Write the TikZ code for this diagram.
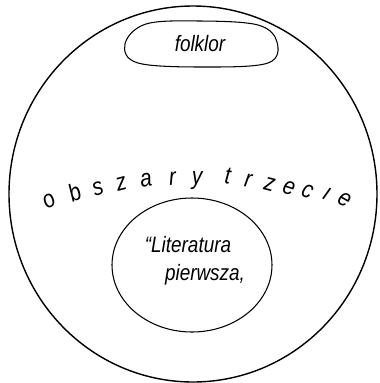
\documentclass[tikz,border=0pt]{standalone}
\usepackage{fontspec}
\setsansfont{Liberation Sans}
\newfontfamily\drawfont[FakeStretch=0.85]{Liberation Sans}
\begin{document}
\begin{tikzpicture}[x=0.03cm, y=-0.03cm,
    area/.style={draw, line width=0.9pt},
    label/.style={font=\drawfont\itshape\fontsize{19}{22}\selectfont, text centered, align=center},
    letter/.style={font=\drawfont\itshape\fontsize{21}{22}\selectfont, anchor=base, inner sep=0pt}]
    \useasboundingbox (0,0) rectangle (379,383);
    % outer circle
    \draw [area, line width=1.2pt] (193,194) ellipse [x radius=184, y radius=188];
    % folklor
    \draw [area] plot [smooth cycle, tension=0.6] coordinates {(125,44) (146,24) (200,21) (258,25) (277,42) (268,63) (205,67) (138,63)};
    \node [label] (folk) at (200,44) {folklor};
    % literatura pierwsza
    \draw [area] (192,265) ellipse [x radius=80, y radius=67];
    \node [label, anchor=base] (lit) at (188,252) {“Literatura};
    \node [label, anchor=base] (pier) at (205,280) {pierwsza,};
    % obszary trzecie
    \foreach \ch/\x/\y in {o/53/207, b/78/200, s/100/195, z/123/190, a/147/187, r/173/185, y/197/185,
        t/227/184, r/247/187, z/268/191, e/287/194, c/305/197, \i/324/200, e/342/205}
        \node [letter, rotate={-1.3*asin((\x-195)/379)}] at (\x,\y) {\ch};
\end{tikzpicture}
\end{document}
